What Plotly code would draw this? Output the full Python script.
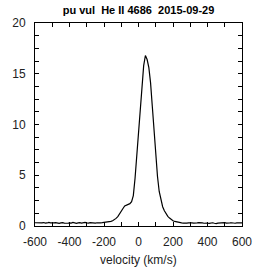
import plotly.graph_objects as go

velocity = list(range(-600, 610, 10))
flux = [
    0.32, 0.30, 0.33, 0.29, 0.31, 0.34, 0.28, 0.30, 0.36, 0.31,   # -600..-510
    0.27, 0.30, 0.33, 0.29, 0.26, 0.30, 0.33, 0.28, 0.25, 0.27,   # -500..-410
    0.31, 0.29, 0.35, 0.30, 0.27, 0.31, 0.34, 0.29, 0.32, 0.36,   # -400..-310
    0.31, 0.28, 0.33, 0.30, 0.34, 0.29, 0.32, 0.35, 0.31, 0.33,   # -300..-210
    0.35, 0.34, 0.37, 0.42, 0.46, 0.52, 0.62, 0.75, 0.92, 1.15,   # -200..-110
    1.40, 1.72, 1.98, 2.06, 2.12, 2.20, 2.40, 3.00, 4.70, 7.00,   # -100..-10
    9.20, 11.30, 13.50, 15.80, 16.80, 16.40, 15.60, 14.10, 11.80, 9.40,  # 0..90
    6.80, 4.90, 3.40, 2.50, 1.90, 1.50, 1.20, 0.95, 0.78, 0.63,   # 100..190
    0.52, 0.45, 0.40, 0.36, 0.33, 0.31, 0.29, 0.32, 0.28, 0.30,   # 200..290
    0.27, 0.31, 0.29, 0.26, 0.30, 0.33, 0.28, 0.30, 0.27, 0.31,   # 300..390
    0.29, 0.25, 0.28, 0.32, 0.27, 0.24, 0.29, 0.31, 0.27, 0.30,   # 400..490
    0.33, 0.28, 0.26, 0.30, 0.32, 0.29, 0.27, 0.31, 0.30, 0.28,   # 500..590
    0.31,                                                         # 600
]

title_text = "pu vul  He II 4686  2015-09-29"
x_label = "velocity (km/s)"
x_ticks = [-600, -400, -200, 0, 200, 400, 600]
x_tick_labels = ["-600", "-400", "-200", "0", "200", "400", "600"]
y_ticks = [0, 5, 10, 15, 20]
y_tick_labels = ["0", "5", "10", "15", "20"]

FONT = "Liberation Sans, Arial"

fig = go.Figure()
fig.add_trace(go.Scatter(x=velocity, y=flux, mode="lines",
                         line=dict(color="black", width=1.2), showlegend=False))

axis_common = dict(showline=True, linecolor="black", linewidth=1, mirror="ticks",
                   ticks="inside", ticklen=4, tickcolor="black", tickwidth=1,
                   showgrid=False, zeroline=False, automargin=False,
                   tickfont=dict(family=FONT, size=12, color="#222"))

fig.update_layout(
    width=267, height=267,
    margin=dict(l=35, r=25, t=23, b=41),
    paper_bgcolor="white", plot_bgcolor="white",
    title=dict(text="<b>" + title_text + "</b>", x=0.5, xanchor="center", xref="paper",
               y=1, yref="container", yanchor="top", pad=dict(t=6),
               font=dict(family=FONT, size=11, color="black")),
    xaxis=dict(range=[-600, 600], tickvals=x_ticks, ticktext=x_tick_labels,
               ticklabelstandoff=5,
               minor=dict(dtick=100, ticks="inside", ticklen=4, tickcolor="black"),
               **axis_common),
    yaxis=dict(range=[0, 20], tickvals=y_ticks, ticktext=y_tick_labels,
               ticklabelstandoff=6,
               minor=dict(dtick=1.25, ticks="inside", ticklen=4, tickcolor="black"),
               **axis_common),
    annotations=[dict(text=x_label, xref="paper", yref="paper", x=0.5, y=-0.168,
                      xanchor="center", yanchor="middle", showarrow=False,
                      font=dict(family=FONT, size=12, color="#222"))],
)

fig.write_html("out.html")
